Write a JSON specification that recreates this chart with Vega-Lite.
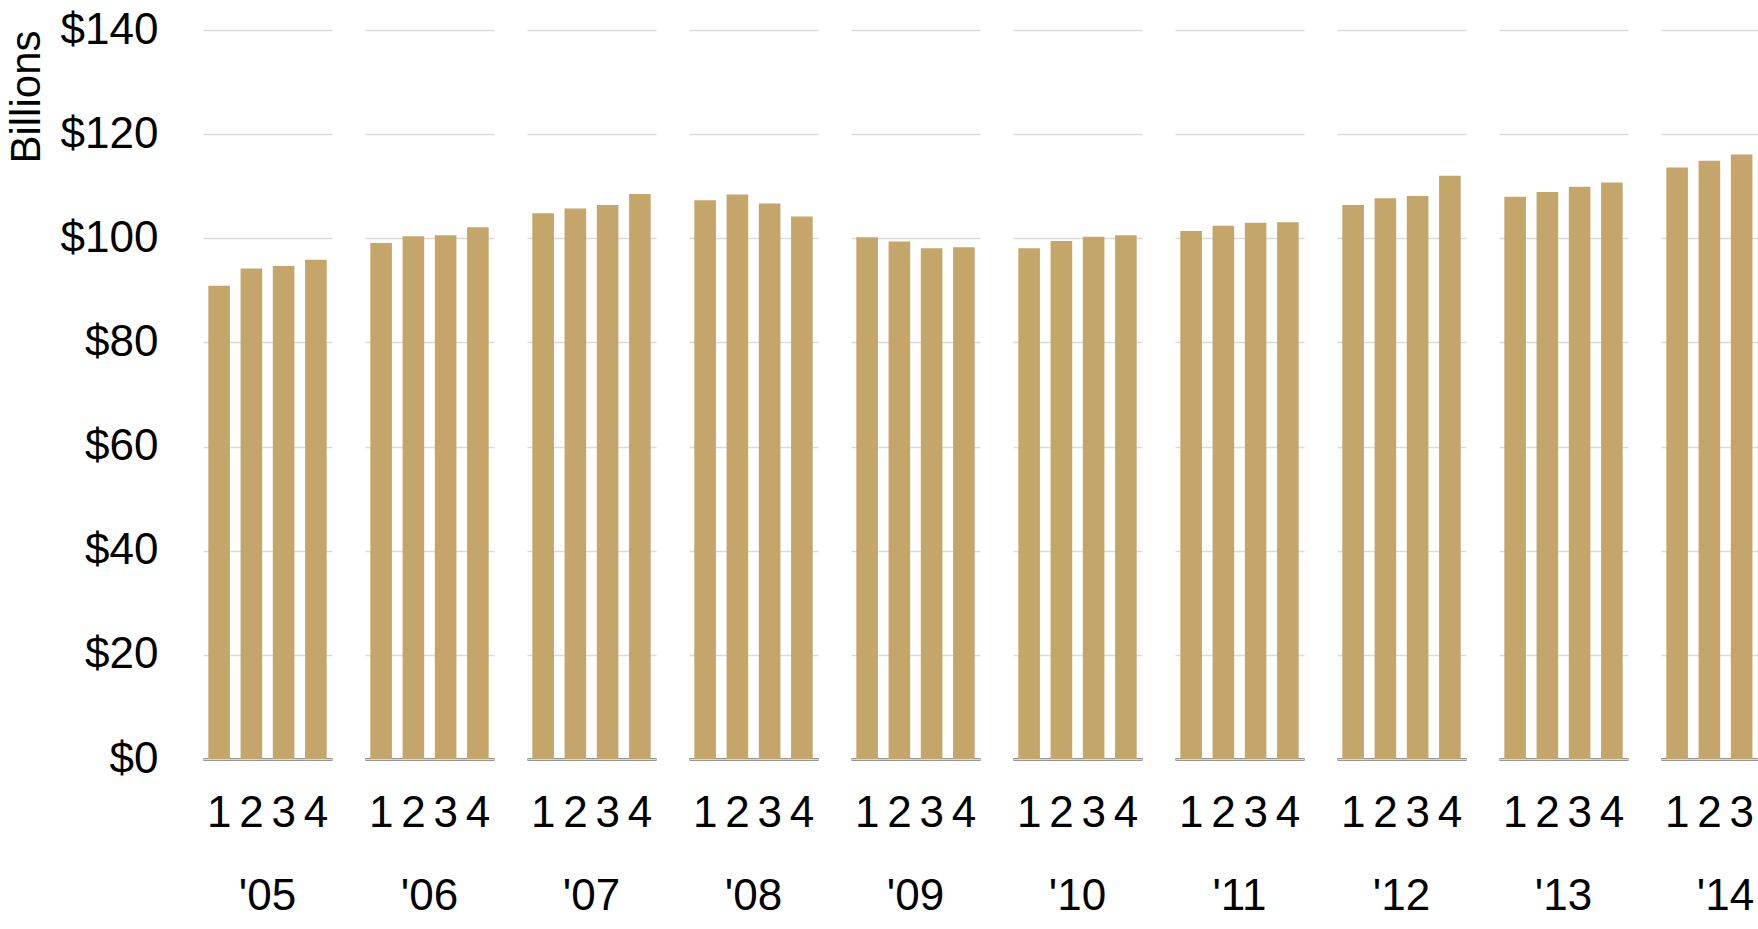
{
  "$schema": "https://vega.github.io/schema/vega-lite/v6.json",
  "padding": {"left": 5, "top": 8, "right": 5, "bottom": 5},
  "spacing": 0,
  "config": {
    "view": {"stroke": null},
    "font": "Liberation Sans",
    "axis": {"labelFont": "Liberation Sans", "titleFont": "Liberation Sans", "labelColor": "#000000", "titleColor": "#000000"},
    "header": {"labelFont": "Liberation Sans", "labelColor": "#000000"}
  },
  "data": {
    "values": [
      {"year": "'05", "q": "1", "status": "past", "value": 90.9},
      {"year": "'05", "q": "2", "status": "past", "value": 94.2},
      {"year": "'05", "q": "3", "status": "past", "value": 94.7},
      {"year": "'05", "q": "4", "status": "past", "value": 95.9},
      {"year": "'06", "q": "1", "status": "past", "value": 99.1},
      {"year": "'06", "q": "2", "status": "past", "value": 100.4},
      {"year": "'06", "q": "3", "status": "past", "value": 100.6},
      {"year": "'06", "q": "4", "status": "past", "value": 102.1},
      {"year": "'07", "q": "1", "status": "past", "value": 104.8},
      {"year": "'07", "q": "2", "status": "past", "value": 105.7},
      {"year": "'07", "q": "3", "status": "past", "value": 106.4},
      {"year": "'07", "q": "4", "status": "past", "value": 108.5},
      {"year": "'08", "q": "1", "status": "past", "value": 107.3},
      {"year": "'08", "q": "2", "status": "past", "value": 108.4},
      {"year": "'08", "q": "3", "status": "past", "value": 106.7},
      {"year": "'08", "q": "4", "status": "past", "value": 104.2},
      {"year": "'09", "q": "1", "status": "past", "value": 100.2},
      {"year": "'09", "q": "2", "status": "past", "value": 99.4},
      {"year": "'09", "q": "3", "status": "past", "value": 98.1},
      {"year": "'09", "q": "4", "status": "past", "value": 98.3},
      {"year": "'10", "q": "1", "status": "past", "value": 98.1},
      {"year": "'10", "q": "2", "status": "past", "value": 99.5},
      {"year": "'10", "q": "3", "status": "past", "value": 100.3},
      {"year": "'10", "q": "4", "status": "past", "value": 100.6},
      {"year": "'11", "q": "1", "status": "past", "value": 101.4},
      {"year": "'11", "q": "2", "status": "past", "value": 102.4},
      {"year": "'11", "q": "3", "status": "past", "value": 103.0},
      {"year": "'11", "q": "4", "status": "past", "value": 103.1},
      {"year": "'12", "q": "1", "status": "past", "value": 106.4},
      {"year": "'12", "q": "2", "status": "past", "value": 107.7},
      {"year": "'12", "q": "3", "status": "past", "value": 108.1},
      {"year": "'12", "q": "4", "status": "past", "value": 112.0},
      {"year": "'13", "q": "1", "status": "past", "value": 108.0},
      {"year": "'13", "q": "2", "status": "past", "value": 108.9},
      {"year": "'13", "q": "3", "status": "past", "value": 109.9},
      {"year": "'13", "q": "4", "status": "past", "value": 110.7},
      {"year": "'14", "q": "1", "status": "past", "value": 113.6},
      {"year": "'14", "q": "2", "status": "past", "value": 114.9},
      {"year": "'14", "q": "3", "status": "past", "value": 116.1},
      {"year": "'14", "q": "4", "status": "past", "value": 118.0},
      {"year": "'15", "q": "1", "status": "past", "value": 119.2},
      {"year": "'15", "q": "2", "status": "past", "value": 121.6},
      {"year": "'15", "q": "3", "status": "past", "value": 122.9},
      {"year": "'15", "q": "4", "status": "past", "value": 124.5},
      {"year": "'16", "q": "1", "status": "latest", "value": 125.7, "label": "$126"}
    ]
  },
  "facet": {
    "column": {
      "field": "year", "type": "nominal",
      "header": {"title": null, "labelOrient": "bottom", "labelFontSize": 44, "labelPadding": 40}
    }
  },
  "spec": {
    "width": 129,
    "height": 729,
    "layer": [
      {
        "mark": {"type": "bar"},
        "encoding": {
          "x": {
            "field": "q", "type": "nominal",
            "scale": {"domain": ["1", "2", "3", "4"], "paddingInner": 0.33, "paddingOuter": 0.165},
            "axis": {
              "title": null, "labelAngle": 0, "labelFontSize": 44, "labelPadding": 32,
              "ticks": false, "domain": true, "domainColor": "#000000", "domainWidth": 2
            }
          },
          "y": {
            "field": "value", "type": "quantitative",
            "scale": {"domain": [0, 140], "nice": false},
            "axis": {
              "title": "Billions", "titleFontSize": 42, "titleFontWeight": "normal",
              "titleAnchor": "end", "titlePadding": 12,
              "values": [0, 20, 40, 60, 80, 100, 120, 140],
              "labelExpr": "'$' + datum.value",
              "labelFontSize": 44, "labelPadding": 45,
              "domain": false, "ticks": false,
              "grid": true, "gridColor": "#d9d9d9", "gridWidth": 1.5
            }
          },
          "color": {
            "field": "status", "type": "nominal",
            "scale": {"domain": ["past", "latest"], "range": ["#C4A66B", "#666F67"]},
            "legend": null
          }
        }
      },
      {
        "transform": [{"filter": "datum.status === 'latest'"}],
        "mark": {"type": "text", "dy": -20, "baseline": "bottom", "fontWeight": "bold", "fontSize": 44, "color": "#666F67"},
        "encoding": {
          "x": {"field": "q", "type": "nominal"},
          "y": {"field": "value", "type": "quantitative"},
          "text": {"field": "label", "type": "nominal"}
        }
      }
    ]
  }
}
